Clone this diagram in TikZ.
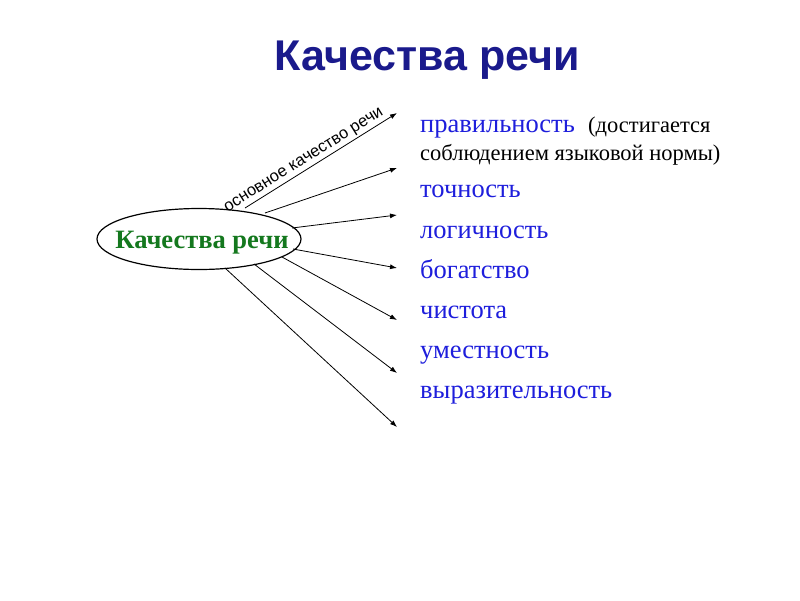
\documentclass[tikz,border=0pt]{standalone}
\usepackage{fontspec}
\setmainfont{Liberation Serif}
\newfontfamily\sansf{Liberation Sans}
\usetikzlibrary{arrows.meta,shapes.geometric}
\definecolor{titleblue}{RGB}{26,26,140}
\definecolor{itemblue}{RGB}{30,30,220}
\definecolor{dgreen}{RGB}{20,120,30}
\tikzset{
  conn/.style={draw=black, line width=0.8pt, -{Latex[length=7pt,width=5pt]}},
  item/.style={anchor=base west, inner sep=0pt, text=itemblue, font=\fontsize{26.5}{30}\selectfont},
  note/.style={anchor=base west, inner sep=0pt, text=black, font=\fontsize{22.5}{26}\selectfont},
}
\begin{document}
\begin{tikzpicture}[x=1pt,y=-1pt]
\useasboundingbox (0,0) rectangle (800,600);
\fill[white] (0,0) rectangle (800,600);
\node[anchor=base, inner sep=0pt, text=titleblue, font=\sansf\bfseries\fontsize{43}{48}\selectfont] (title) at (427,70) {Качества речи};
\node[ellipse, draw=black, line width=1.2pt, minimum width=204pt, minimum height=61pt, inner sep=0pt] (center) at (199,239) {};
\node[text=dgreen, font=\bfseries\fontsize{26.5}{30}\selectfont, inner sep=0pt] (ctext) at (202,243) {Качества речи};

\coordinate (e1) at (397,113);
\coordinate (e2) at (397,168);
\coordinate (e3) at (397,215);
\coordinate (e4) at (397,268);
\coordinate (e5) at (397,320);
\coordinate (e6) at (397,373);
\coordinate (e7) at (397,427);
\coordinate (s1) at (245,208);
\coordinate (s2) at (265,213);
\coordinate (s3) at (292,228);
\coordinate (s4) at (293,249);
\coordinate (s5) at (282,257);
\coordinate (s6) at (254,264);
\coordinate (s7) at (225,268);

\draw[conn] (s1) -- node[sloped, above, inner sep=2pt, font=\sansf\fontsize{16.5}{19}\selectfont, pos=0.42] (lab) {основное качество речи} (e1);
\draw[conn] (s2) -- (e2);
\draw[conn] (s3) -- (e3);
\draw[conn] (s4) -- (e4);
\draw[conn] (s5) -- (e5);
\draw[conn] (s6) -- (e6);
\draw[conn] (s7) -- (e7);

\node[item] (i1) at (420,132) {правильность};
\node[note] (n1) at (588,132) {(достигается};
\node[note] (n2) at (420,160) {соблюдением языковой нормы)};
\node[item] (i2) at (420,197) {точность};
\node[item] (i3) at (420,238) {логичность};
\node[item] (i4) at (420,278) {богатство};
\node[item] (i5) at (420,318) {чистота};
\node[item] (i6) at (420,358) {уместность};
\node[item] (i7) at (420,398) {выразительность};
\end{tikzpicture}
\end{document}
